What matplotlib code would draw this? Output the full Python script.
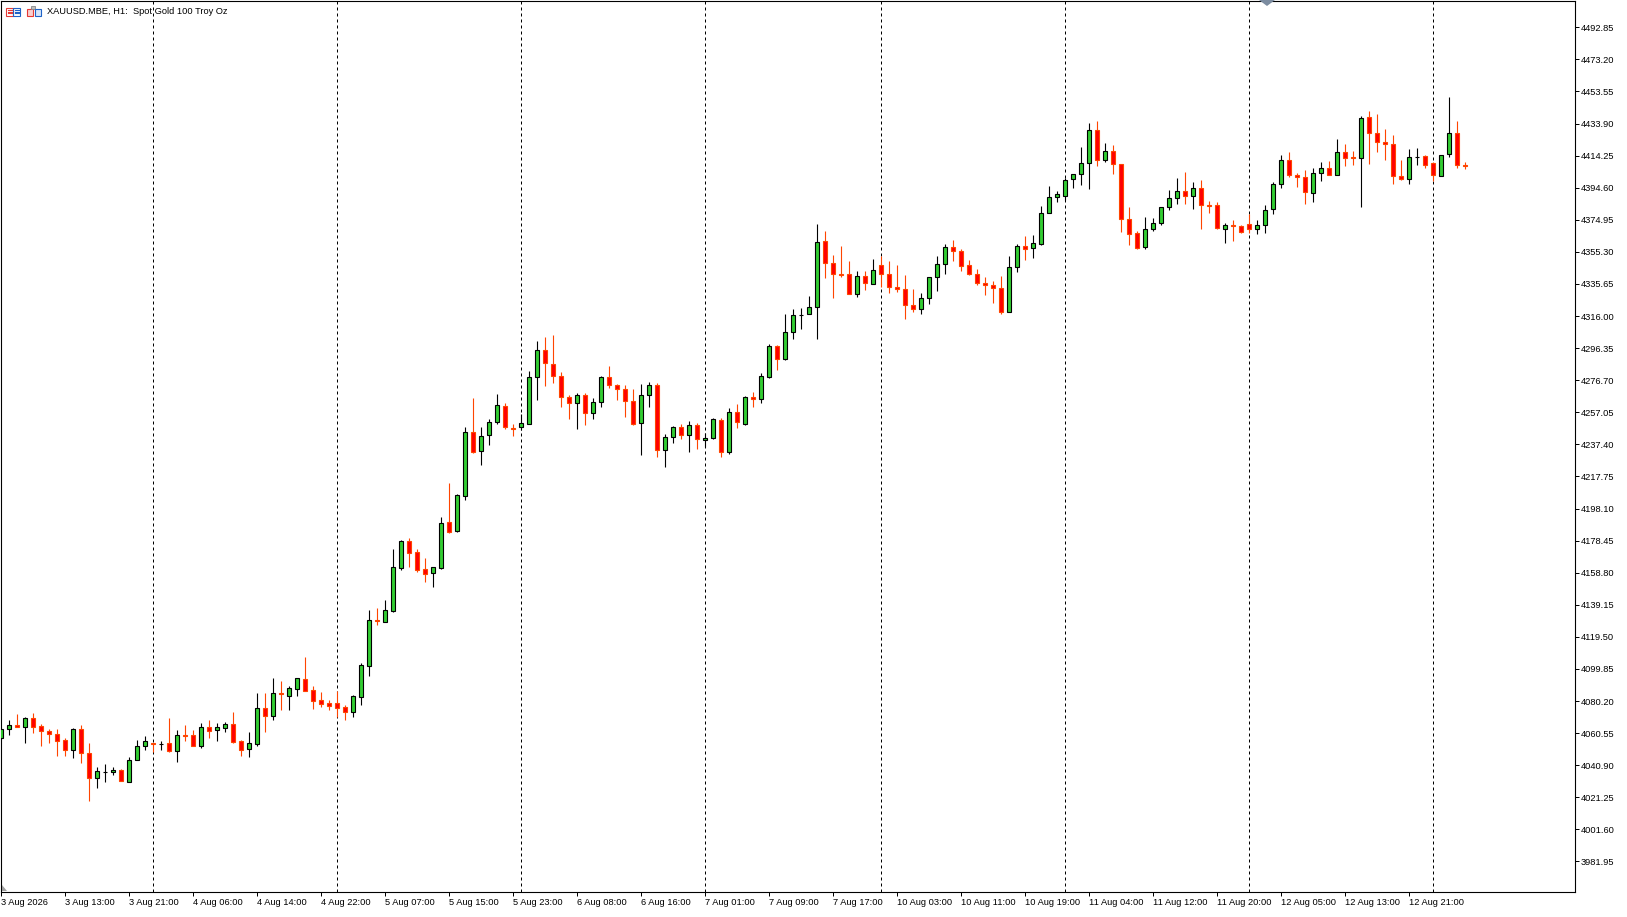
import matplotlib
matplotlib.use("Agg")
import matplotlib.pyplot as plt
from matplotlib.patches import Rectangle, Polygon

plt.rcParams['font.family'] = ['Liberation Sans', 'DejaVu Sans']

symbol_title = "XAUUSD.MBE, H1:  Spot Gold 100 Troy Oz"

# H1 bars (index 0 = 3 Aug 05:00)
opens = [
    4057.4, 4062.9, 4065.3, 4064.1, 4069.6, 4064.9, 4061.9, 4060.0, 4056.4, 4050.0,
    4062.9, 4048.2, 4032.9, 4037.0, 4036.5, 4037.8, 4030.8, 4043.9, 4052.5, 4054.3,
    4053.9, 4054.3, 4049.4, 4059.2, 4059.2, 4052.9, 4064.1, 4062.3, 4063.9, 4065.9,
    4055.5, 4050.6, 4054.1, 4075.7, 4071.3, 4084.9, 4083.6, 4087.8, 4093.6, 4087.0,
    4080.7, 4079.1, 4079.1, 4076.4, 4073.2, 4082.5, 4101.9, 4129.6, 4128.5, 4135.6,
    4161.8, 4178.3, 4171.6, 4161.1, 4158.4, 4161.9, 4189.7, 4184.2, 4206.0, 4244.8,
    4233.2, 4242.9, 4250.9, 4260.7, 4247.4, 4247.9, 4250.1, 4278.5, 4295.0, 4286.4,
    4279.1, 4266.2, 4262.6, 4267.5, 4256.4, 4263.2, 4278.5, 4273.6, 4271.1, 4263.8,
    4250.3, 4267.5, 4273.6, 4233.8, 4241.7, 4247.9, 4243.4, 4249.1, 4239.9, 4241.1,
    4252.2, 4233.0, 4257.0, 4250.1, 4266.2, 4265.0, 4278.7, 4297.5, 4289.9, 4306.4,
    4316.6, 4317.1, 4321.3, 4361.8, 4348.3, 4341.5, 4341.6, 4329.3, 4340.3, 4335.4,
    4347.1, 4341.6, 4333.6, 4332.4, 4322.6, 4320.1, 4326.9, 4339.7, 4347.7, 4358.1,
    4355.7, 4347.1, 4341.6, 4336.1, 4334.8, 4333.0, 4318.3, 4345.9, 4358.7, 4357.5,
    4360.3, 4378.9, 4388.7, 4389.7, 4399.7, 4402.8, 4409.5, 4429.8, 4411.4, 4416.9,
    4408.9, 4375.3, 4366.7, 4358.1, 4369.1, 4372.8, 4382.6, 4388.1, 4392.4, 4389.3,
    4394.2, 4384.1, 4383.8, 4369.1, 4371.5, 4371.2, 4372.4, 4369.1, 4371.6, 4381.4,
    4396.7, 4411.4, 4402.2, 4401.0, 4391.2, 4403.4, 4406.5, 4402.2, 4416.3, 4413.2,
    4412.6, 4437.7, 4427.9, 4422.6, 4421.2, 4401.6, 4399.7, 4413.4, 4413.8, 4409.6,
    4401.6, 4415.1, 4427.9, 4408.4,
]
highs = [
    4063.3, 4068.6, 4072.3, 4070.2, 4072.9, 4066.2, 4063.1, 4063.1, 4057.6, 4063.5,
    4065.5, 4054.5, 4039.8, 4041.7, 4039.8, 4038.4, 4045.9, 4056.4, 4058.6, 4054.7,
    4055.5, 4069.8, 4062.5, 4065.5, 4062.5, 4066.8, 4068.6, 4066.8, 4067.4, 4073.5,
    4056.4, 4061.3, 4085.1, 4085.1, 4094.5, 4092.5, 4089.5, 4094.6, 4107.4, 4089.5,
    4085.8, 4080.9, 4086.6, 4077.8, 4083.9, 4103.8, 4136.0, 4137.3, 4142.2, 4173.4,
    4178.9, 4180.1, 4173.4, 4167.9, 4162.3, 4192.9, 4213.7, 4207.2, 4247.9, 4265.6,
    4247.9, 4252.7, 4268.3, 4262.6, 4249.7, 4255.8, 4282.4, 4300.7, 4303.2, 4304.4,
    4281.7, 4267.7, 4268.7, 4268.7, 4265.6, 4279.3, 4285.4, 4274.4, 4273.6, 4271.1,
    4274.4, 4275.4, 4274.8, 4243.6, 4248.5, 4249.9, 4251.7, 4250.3, 4244.6, 4253.4,
    4253.4, 4259.5, 4262.0, 4266.8, 4269.3, 4280.9, 4298.9, 4298.3, 4317.3, 4320.3,
    4320.9, 4328.1, 4372.4, 4368.1, 4353.2, 4358.9, 4349.7, 4343.6, 4343.6, 4350.7,
    4352.8, 4349.7, 4347.1, 4341.2, 4332.6, 4329.9, 4339.9, 4352.8, 4360.1, 4362.6,
    4357.1, 4350.3, 4344.8, 4339.9, 4337.7, 4340.5, 4352.8, 4360.1, 4365.0, 4365.7,
    4383.4, 4395.7, 4392.6, 4400.4, 4403.0, 4419.6, 4434.3, 4435.5, 4421.8, 4420.6,
    4408.9, 4382.6, 4367.9, 4376.5, 4375.9, 4382.8, 4393.2, 4400.6, 4404.2, 4397.9,
    4399.3, 4386.5, 4385.7, 4373.0, 4374.8, 4371.8, 4378.5, 4374.8, 4383.8, 4398.3,
    4414.7, 4416.5, 4403.4, 4405.3, 4406.5, 4410.2, 4410.8, 4424.3, 4421.4, 4417.1,
    4438.3, 4441.6, 4439.8, 4430.6, 4426.9, 4411.6, 4418.1, 4418.7, 4414.7, 4410.2,
    4414.5, 4450.2, 4435.5, 4410.4,
]
lows = [
    4057.0, 4059.6, 4064.1, 4054.7, 4060.8, 4052.7, 4054.7, 4046.8, 4046.8, 4045.5,
    4042.5, 4019.2, 4027.2, 4030.8, 4034.9, 4031.0, 4030.4, 4043.9, 4050.4, 4049.2,
    4050.4, 4049.2, 4043.1, 4055.9, 4052.9, 4051.7, 4057.8, 4055.9, 4061.5, 4054.7,
    4046.8, 4046.1, 4052.9, 4061.5, 4068.6, 4074.8, 4074.8, 4083.4, 4086.6, 4075.4,
    4076.8, 4074.8, 4070.7, 4068.6, 4070.7, 4077.8, 4095.6, 4126.8, 4128.5, 4135.0,
    4160.5, 4162.6, 4159.3, 4153.4, 4150.3, 4161.3, 4183.3, 4183.8, 4203.4, 4232.3,
    4225.0, 4237.2, 4249.7, 4246.6, 4242.7, 4246.2, 4249.7, 4264.6, 4273.4, 4275.2,
    4260.5, 4253.2, 4247.0, 4249.5, 4252.8, 4260.5, 4271.8, 4264.8, 4254.4, 4249.5,
    4230.7, 4260.5, 4229.9, 4223.8, 4238.5, 4241.0, 4233.0, 4234.8, 4236.0, 4240.5,
    4229.9, 4231.7, 4247.2, 4249.5, 4260.5, 4262.6, 4278.3, 4283.0, 4289.3, 4302.2,
    4308.3, 4317.1, 4302.2, 4339.5, 4327.3, 4339.7, 4329.3, 4327.9, 4332.2, 4335.4,
    4334.0, 4329.9, 4331.0, 4314.0, 4318.7, 4317.5, 4323.2, 4331.6, 4341.8, 4349.9,
    4343.8, 4341.0, 4335.2, 4329.1, 4324.2, 4317.1, 4318.3, 4343.2, 4350.6, 4351.8,
    4359.5, 4378.9, 4386.1, 4386.9, 4394.4, 4396.5, 4394.0, 4408.1, 4410.2, 4403.2,
    4367.7, 4359.7, 4356.9, 4357.3, 4367.9, 4371.6, 4380.8, 4384.4, 4384.4, 4381.4,
    4369.1, 4378.9, 4369.1, 4360.6, 4361.8, 4367.1, 4367.1, 4366.1, 4366.7, 4378.3,
    4394.2, 4401.0, 4395.3, 4384.4, 4385.7, 4398.5, 4402.2, 4402.2, 4407.7, 4408.3,
    4382.6, 4408.9, 4416.3, 4411.4, 4396.7, 4399.1, 4396.7, 4408.3, 4406.5, 4398.5,
    4401.6, 4413.2, 4406.5, 4405.9,
]
closes = [
    4062.9, 4065.5, 4064.1, 4069.6, 4064.1, 4061.7, 4059.8, 4055.5, 4050.0, 4062.9,
    4048.2, 4032.9, 4037.2, 4037.0, 4037.8, 4031.0, 4043.9, 4052.5, 4055.5, 4053.9,
    4053.9, 4049.8, 4059.2, 4059.0, 4052.9, 4064.1, 4062.1, 4064.1, 4065.9, 4055.3,
    4050.4, 4054.3, 4075.7, 4071.3, 4084.9, 4084.6, 4088.1, 4094.2, 4086.6, 4080.5,
    4078.7, 4077.4, 4076.2, 4073.2, 4083.4, 4102.3, 4129.9, 4129.3, 4136.0, 4162.2,
    4178.3, 4171.1, 4160.5, 4158.3, 4162.1, 4189.0, 4183.8, 4206.4, 4244.8, 4232.9,
    4242.3, 4250.9, 4261.3, 4247.9, 4247.0, 4250.3, 4278.5, 4295.0, 4287.1, 4279.1,
    4266.2, 4262.6, 4267.5, 4256.4, 4263.2, 4278.5, 4273.6, 4271.1, 4263.8, 4250.1,
    4267.5, 4273.6, 4233.8, 4241.7, 4247.9, 4243.4, 4249.1, 4240.5, 4241.1, 4252.8,
    4233.0, 4257.0, 4250.9, 4266.2, 4265.0, 4279.1, 4297.5, 4289.9, 4306.0, 4316.5,
    4316.6, 4321.3, 4361.2, 4348.3, 4341.6, 4341.2, 4329.3, 4340.3, 4336.1, 4344.0,
    4341.6, 4333.6, 4332.4, 4322.6, 4320.1, 4326.9, 4339.7, 4347.7, 4358.1, 4355.7,
    4346.9, 4341.6, 4336.1, 4335.2, 4333.0, 4318.3, 4345.9, 4358.7, 4356.9, 4360.6,
    4378.9, 4388.7, 4390.6, 4399.1, 4402.8, 4409.5, 4429.8, 4411.4, 4416.9, 4408.9,
    4375.3, 4366.1, 4357.5, 4369.1, 4372.8, 4382.6, 4388.1, 4392.4, 4389.3, 4394.2,
    4383.8, 4383.6, 4369.7, 4371.6, 4371.2, 4367.7, 4369.1, 4371.6, 4380.8, 4396.7,
    4411.4, 4402.2, 4401.0, 4391.8, 4403.4, 4406.5, 4402.2, 4416.3, 4412.6, 4412.8,
    4437.1, 4427.9, 4422.4, 4421.2, 4401.6, 4399.7, 4413.2, 4413.4, 4408.3, 4402.2,
    4414.5, 4427.9, 4408.3, 4408.2,
]

# first bar of every trading day (period separators)
day_starts = [19, 42, 65, 88, 110, 133, 156, 179]

time_tick_bars = [0, 8, 16, 24, 32, 40, 48, 56, 64, 72, 80, 88, 96, 104,
                  112, 120, 128, 136, 144, 152, 160, 168, 176]
time_labels = ["3 Aug 2026", "3 Aug 13:00", "3 Aug 21:00", "4 Aug 06:00",
               "4 Aug 14:00", "4 Aug 22:00", "5 Aug 07:00", "5 Aug 15:00",
               "5 Aug 23:00", "6 Aug 08:00", "6 Aug 16:00", "7 Aug 01:00",
               "7 Aug 09:00", "7 Aug 17:00", "10 Aug 03:00", "10 Aug 11:00",
               "10 Aug 19:00", "11 Aug 04:00", "11 Aug 12:00", "11 Aug 20:00",
               "12 Aug 05:00", "12 Aug 13:00", "12 Aug 21:00"]

price_ticks = [3981.95, 4001.60, 4021.25, 4040.90, 4060.55, 4080.20, 4099.85,
               4119.50, 4139.15, 4158.80, 4178.45, 4198.10, 4217.75, 4237.40,
               4257.05, 4276.70, 4296.35, 4316.00, 4335.65, 4355.30, 4374.95,
               4394.60, 4414.25, 4433.90, 4453.55, 4473.20, 4492.85]

bull_fill = '#32CD32'
bull_line = '#000000'
bear_fill = '#FF0000'
bear_line = '#FF4500'

W, H = 1627, 917
fig = plt.figure(figsize=(W / 100, H / 100), dpi=100)
fig.patch.set_facecolor('white')

# plot frame in pixels: x 1..1575, y 1..892
ax = fig.add_axes([1 / W, (H - 892) / H, 1574 / W, 891 / H])
ax.set_facecolor('white')

n = len(opens)
xs = list(range(n))
up = [c >= o for o, c in zip(opens, closes)]
line_cols = [bull_line if u else bear_line for u in up]
fill_cols = [bull_fill if u else bear_fill for u in up]

ax.vlines(xs, lows, highs, colors=line_cols, linewidth=0.8, zorder=2)
bottoms = [min(o, c) for o, c in zip(opens, closes)]
heights = [abs(c - o) for o, c in zip(opens, closes)]
ax.bar(xs, heights, bottom=bottoms, width=0.5, color=fill_cols,
       edgecolor=line_cols, linewidth=0.8, zorder=3)

for d in day_starts:
    ax.axvline(d, color='black', linewidth=0.72, linestyle=(0, (3, 3)), zorder=1)

ax.set_xlim((1 - 1.3) / 8, (1575 - 1.3) / 8)
ax.set_ylim(3963.25, 4508.98)

ax.yaxis.tick_right()
ax.set_yticks(price_ticks, [f"{v:.2f}" for v in price_ticks])
ax.set_xticks(time_tick_bars, time_labels)
for lbl in ax.get_xticklabels():
    lbl.set_horizontalalignment('left')
ax.tick_params(axis='y', direction='out', length=3, width=0.72, pad=1,
               labelsize=6.7, colors='black')
ax.tick_params(axis='x', direction='out', length=3, width=0.72, pad=1.5,
               labelsize=6.7, colors='black')
for s in ax.spines.values():
    s.set_linewidth(0.8)
    s.set_color('black')

# overlay in pixel coordinates for header and small chart markers
ov = fig.add_axes([0, 0, 1, 1], zorder=5)
ov.set_xlim(0, W)
ov.set_ylim(H, 0)
ov.axis('off')

ov.text(47, 12, symbol_title, fontsize=6.7, va='center', ha='left')

# header icons
ov.add_patch(Rectangle((6.5, 7.5), 7, 8, fill=False, ec='#E53935', lw=0.8))
ov.add_patch(Rectangle((13.5, 7.5), 7, 8, fill=False, ec='#1E63C8', lw=0.8))
for yy in (9.8, 11.6, 13.4):
    ov.plot([8, 12], [yy, yy], color='#E53935', lw=0.8)
    ov.plot([15, 19], [yy, yy], color='#1E63C8', lw=0.8)
ov.add_patch(Polygon([(27.5, 9), (31, 9), (31, 7.5), (33.5, 7.5), (33.5, 16), (27.5, 16)],
                     closed=True, fc='#F9D0D0', ec='#E53935', lw=0.8))
ov.add_patch(Rectangle((31, 6), 4, 3, fc='#BDBDBD', ec='#888888', lw=0.6))
ov.add_patch(Rectangle((35, 9), 6.5, 7, fc='#D6E6FA', ec='#1E63C8', lw=0.8))

# chart shift / scale markers
ov.add_patch(Polygon([(1259, 0), (1275, 0), (1267, 6)], closed=True,
                     fc='#7C8CA0', ec='none', clip_on=False))
ov.add_patch(Polygon([(2, 885), (2, 891), (7, 891)], closed=True, fc='#9E9E9E', ec='none'))

fig.savefig('out.png', dpi=100)
